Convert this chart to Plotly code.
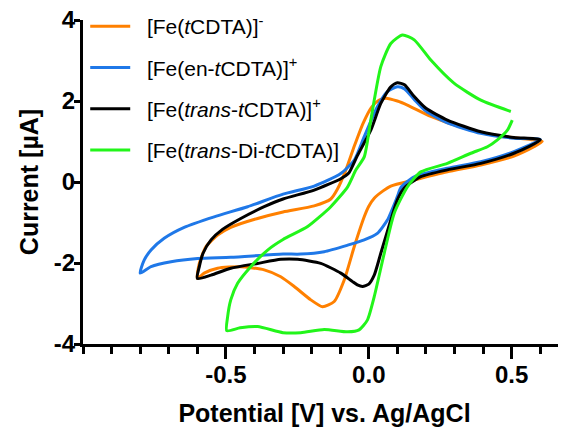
import plotly.graph_objects as go

# ---- data (Potential in V vs Ag/AgCl, Current in µA) ----
names = [
    "[Fe(<i>t</i>CDTA)]<sup>-</sup>",
    "[Fe(en-<i>t</i>CDTA)]<sup>+</sup>",
    "[Fe(<i>trans</i>-<i>t</i>CDTA)]<sup>+</sup>",
    "[Fe(<i>trans</i>-Di-<i>t</i>CDTA)]",
]
colors = ["#FF8000", "#1F78E8", "#000000", "#22F51A"]

v_orange = [-0.60, -0.593, -0.57, -0.529, -0.483, -0.389, -0.30, -0.191, -0.133, -0.11, -0.08, -0.05, -0.02, 0.01, 0.035, 0.06, 0.10, 0.135, 0.217, 0.333, 0.45, 0.566, 0.607,
            0.578, 0.508, 0.392, 0.275, 0.159, 0.077, 0.05, 0.019, 0.0, -0.016, -0.051, -0.086, -0.121, -0.162, -0.203, -0.261, -0.308, -0.366, -0.448, -0.529, -0.576, -0.60]
i_orange = [-2.38, -2.01, -1.60, -1.31, -1.12, -0.90, -0.74, -0.59, -0.42, -0.18, 0.30, 0.90, 1.45, 1.85, 2.02, 2.07, 2.00, 1.90, 1.62, 1.33, 1.14, 1.05, 1.00,
            0.87, 0.64, 0.42, 0.25, 0.05, -0.10, -0.22, -0.40, -0.60, -0.86, -1.60, -2.42, -2.95, -3.08, -2.91, -2.58, -2.34, -2.17, -2.09, -2.13, -2.25, -2.38]

v_blue = [-0.80, -0.786, -0.762, -0.716, -0.646, -0.541, -0.424, -0.30, -0.191, -0.098, -0.05, -0.016, 0.03, 0.065, 0.10, 0.125, 0.159, 0.20, 0.275, 0.392, 0.508, 0.60,
          0.508, 0.392, 0.275, 0.159, 0.112, 0.10, 0.065, 0.03, -0.016, -0.074, -0.156, -0.238, -0.30, -0.483, -0.599, -0.692, -0.762, -0.80]
i_blue = [-2.25, -1.93, -1.68, -1.39, -1.12, -0.86, -0.61, -0.30, -0.10, 0.21, 0.55, 1.12, 1.86, 2.23, 2.35, 2.30, 2.04, 1.75, 1.46, 1.20, 1.08, 1.05,
          0.75, 0.50, 0.34, 0.13, -0.14, -0.36, -0.94, -1.27, -1.43, -1.56, -1.72, -1.78, -1.78, -1.86, -1.89, -1.97, -2.09, -2.25]

v_black = [-0.60, -0.593, -0.58, -0.552, -0.512, -0.448, -0.366, -0.30, -0.191, -0.098, -0.07, -0.04, 0.007, 0.042, 0.077, 0.10, 0.125, 0.159, 0.20, 0.275, 0.392, 0.508, 0.60,
           0.508, 0.392, 0.275, 0.182, 0.124, 0.10, 0.077, 0.042, 0.019, 0.0, -0.022, -0.04, -0.057, -0.098, -0.168, -0.249, -0.308, -0.389, -0.483, -0.552, -0.60]
i_black = [-2.38, -2.09, -1.76, -1.43, -1.17, -0.90, -0.61, -0.42, -0.20, 0.08, 0.22, 0.65, 1.28, 1.94, 2.35, 2.45, 2.40, 2.11, 1.82, 1.53, 1.24, 1.10, 1.04,
           0.71, 0.46, 0.30, 0.13, -0.15, -0.44, -0.94, -1.76, -2.30, -2.52, -2.58, -2.54, -2.46, -2.25, -2.01, -1.91, -1.91, -2.01, -2.13, -2.30, -2.38]

v_green = [0.502, 0.485, 0.45, 0.415, 0.357, 0.275, 0.182, 0.135, 0.089, 0.054, 0.019, -0.005, -0.034, -0.074, -0.156, -0.238, -0.30, -0.389, -0.45, -0.497,
           -0.494, -0.483, -0.459, -0.413, -0.354, -0.30, -0.214, -0.133, -0.074, -0.045, -0.016, 0.007, 0.042, 0.077, 0.118, 0.159, 0.217, 0.298, 0.392, 0.497]
i_green = [1.53, 1.28, 1.04, 0.87, 0.71, 0.46, 0.25, -0.12, -0.77, -1.76, -2.83, -3.41, -3.65, -3.70, -3.64, -3.72, -3.72, -3.57, -3.60, -3.67,
           -3.33, -2.91, -2.50, -2.09, -1.68, -1.42, -1.10, -0.61, -0.12, 0.30, 0.62, 1.53, 2.85, 3.42, 3.63, 3.51, 3.01, 2.44, 2.02, 1.74]

x_tickvals = [-0.5, 0.0, 0.5]
x_ticktext = ["-0.5", "0.0", "0.5"]
y_tickvals = [-4, -2, 0, 2, 4]
y_ticktext = ["-4", "-2", "0", "2", "4"]

series = [(v_orange, i_orange), (v_blue, i_blue), (v_black, i_black), (v_green, i_green)]

FONT = "Liberation Sans, Arial, sans-serif"
GAP = "\u00a0\u00a0"

fig = go.Figure()
for k, ((vx, iy), nm, col) in enumerate(zip(series, names, colors)):
    fig.add_trace(go.Scatter(
        x=vx, y=iy, mode="lines", name=GAP + nm, legendgroup=str(k),
        line=dict(color=col, width=3, shape="spline", smoothing=0.6),
    ))

fig.update_layout(
    width=558, height=419,
    margin=dict(l=75, r=0, t=12, b=83, autoexpand=False),
    plot_bgcolor="white", paper_bgcolor="white",
    font=dict(family=FONT, color="black"),
    showlegend=True,
    legend=dict(
        x=0.0046, y=1.043, xanchor="left", yanchor="top",
        font=dict(family=FONT, size=21, color="black"),
        traceorder="grouped", tracegroupgap=11, itemwidth=40,
        bgcolor="rgba(0,0,0,0)",
    ),
    xaxis=dict(
        range=[-1.0, 0.69], showgrid=False, zeroline=False,
        showline=True, linewidth=3, linecolor="black",
        ticks="outside", ticklen=12, tickwidth=3, tickcolor="black",
        tickvals=x_tickvals, ticktext=x_ticktext,
        tickfont=dict(family=FONT, size=24, weight="bold"),
        ticklabelstandoff=-5, ticklabeloverflow="allow",
        minor=dict(dtick=0.1, tick0=0, ticks="outside", ticklen=7, tickwidth=3, tickcolor="black"),
        title=dict(text="Potential [V] vs. Ag/AgCl", font=dict(family=FONT, size=25, weight="bold"), standoff=28),
    ),
    yaxis=dict(
        range=[-4, 4], showgrid=False, zeroline=False,
        showline=True, linewidth=3, linecolor="black",
        ticks="outside", ticklen=6, tickwidth=3, tickcolor="black",
        tickvals=y_tickvals, ticktext=y_ticktext,
        tickfont=dict(family=FONT, size=24, weight="bold"),
        ticklabelstandoff=-6, ticklabeloverflow="allow",
        title=dict(text="Current [µA]", font=dict(family=FONT, size=25, weight="bold"), standoff=9),
    ),
)

fig.write_html("out.html")
